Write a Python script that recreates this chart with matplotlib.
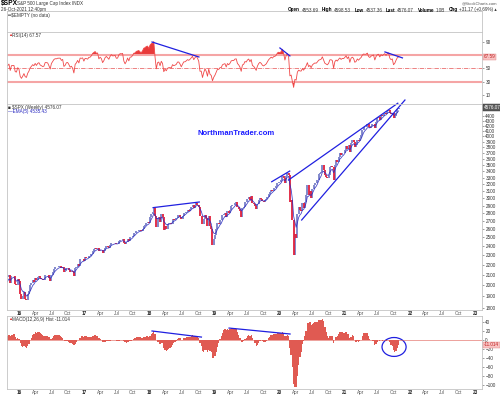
import numpy as np
import pandas as pd
import matplotlib
matplotlib.use("Agg")
import matplotlib.pyplot as plt
from matplotlib.patches import Ellipse
from matplotlib.text import Annotation

plt.rcParams['font.family'] = ['Liberation Sans', 'DejaVu Sans']

# weekly closes of $SPX, week ending 2015-01-02 .. 2021-10-29 (last bar = 26-Oct intraweek)
close_2015 = [2058, 2045, 2019, 2051, 1995, 2055, 2097, 2110, 2104, 2071, 2053, 2108, 2061,
              2067, 2102, 2081, 2117, 2108, 2116, 2123, 2126, 2107, 2092, 2094, 2110, 2102,
              2077, 2077, 2127, 2080, 2104, 2078, 2092, 1971, 1989, 1921, 1961, 1958, 1931,
              1951, 2015, 2033, 2075, 2079, 2099, 2023, 2089, 2090, 2092, 2012, 2006, 2061, 2044]
close_2016 = [1922, 1880, 1907, 1940, 1880, 1865, 1918, 1948, 1999, 2022, 2050, 2036, 2073,
              2048, 2081, 2092, 2065, 2057, 2047, 2052, 2099, 2099, 2096, 2071, 2037, 2103,
              2130, 2162, 2175, 2174, 2183, 2184, 2184, 2169, 2180, 2128, 2139, 2165, 2168,
              2153, 2133, 2141, 2126, 2085, 2164, 2182, 2213, 2192, 2260, 2258, 2264, 2239]
close_2017 = [2277, 2275, 2271, 2295, 2297, 2316, 2351, 2367, 2383, 2373, 2378, 2344, 2363,
              2355, 2329, 2349, 2384, 2399, 2391, 2382, 2416, 2439, 2432, 2433, 2438, 2423,
              2425, 2459, 2473, 2472, 2477, 2441, 2425, 2444, 2477, 2461, 2500, 2502, 2519,
              2549, 2553, 2575, 2581, 2588, 2582, 2579, 2602, 2642, 2652, 2675, 2683, 2674]
close_2018 = [2743, 2786, 2810, 2873, 2762, 2620, 2732, 2747, 2691, 2786, 2752, 2588, 2641,
              2604, 2656, 2670, 2670, 2663, 2728, 2712, 2721, 2735, 2779, 2780, 2755, 2718,
              2760, 2801, 2802, 2819, 2840, 2833, 2850, 2875, 2902, 2872, 2905, 2930, 2914,
              2886, 2767, 2768, 2658, 2723, 2781, 2736, 2633, 2760, 2633, 2600, 2417, 2486]
close_2019 = [2532, 2596, 2671, 2665, 2707, 2708, 2776, 2793, 2804, 2743, 2822, 2800, 2834,
              2893, 2907, 2905, 2940, 2946, 2881, 2860, 2826, 2752, 2873, 2887, 2950, 2942,
              2990, 3014, 2977, 3026, 2932, 2919, 2889, 2847, 2926, 2979, 3007, 2992, 2962,
              2952, 2970, 2986, 3023, 3067, 3093, 3120, 3110, 3141, 3146, 3169, 3221, 3240]
close_2020 = [3235, 3265, 3330, 3295, 3226, 3328, 3380, 3338, 2954, 2972, 2711, 2305, 2541,
              2489, 2790, 2875, 2837, 2831, 2930, 2864, 2955, 3044, 3194, 3041, 3098, 3009,
              3130, 3185, 3225, 3216, 3271, 3351, 3373, 3397, 3508, 3427, 3341, 3319, 3298,
              3348, 3477, 3484, 3465, 3270, 3510, 3585, 3558, 3638, 3699, 3663, 3709, 3703, 3756]
close_2021 = [3825, 3768, 3841, 3714, 3887, 3934, 3907, 3811, 3842, 3943, 3913, 3975, 4020,
              4129, 4185, 4180, 4181, 4233, 4174, 4156, 4204, 4230, 4247, 4166, 4281, 4352,
              4370, 4327, 4412, 4395, 4437, 4468, 4442, 4509, 4535, 4459, 4433, 4455, 4357,
              4391, 4471, 4545, 4576]
last_week = '2021-10-29'

price_ticks = list(range(1800, 4500, 100))
rsi_ticks = [10, 30, 50, 70, 90]
macd_ticks = [40, 20, 0, -20, -40, -60, -80, -100]
year_ticks = ['2016', '2017', '2018', '2019', '2020', '2021', '2022', '2023']
year_labels = ['16', '17', '18', '19', '20', '21', '22', '23']
month_names = ['Apr', 'Jul', 'Oct']
month_nums = [4, 7, 10]

# hand drawn trend lines (date, value)
price_lines = [(('2018-01-22', 2872), ('2018-10-08', 2948)),
               (('2019-11-18', 3240), ('2020-02-27', 3405)),
               (('2020-02-20', 3265), ('2021-10-25', 4670)),
               (('2020-05-04', 2711), ('2021-12-04', 4740))]
rsi_lines = [(('2018-01-16', 90), ('2018-10-06', 67.4)),
             (('2020-01-03', 81), ('2020-02-28', 69)),
             (('2021-08-14', 75), ('2021-11-20', 66))]
macd_lines = [(('2018-01-16', 20), ('2018-10-20', 6.5)),
              (('2019-03-24', 26.5), ('2020-02-29', 13.3))]
circle_center = ('2021-10-04', -15.5)

closes = pd.Series(close_2015 + close_2016 + close_2017 + close_2018 +
                   close_2019 + close_2020 + close_2021, dtype=float)
dates = pd.date_range(end=last_week, periods=len(closes), freq='W-FRI')
closes.index = dates

ema5 = closes.ewm(span=5, adjust=False).mean()
delta = closes.diff()
avg_gain = delta.clip(lower=0).ewm(alpha=1 / 14, adjust=False).mean()
avg_loss = (-delta.clip(upper=0)).ewm(alpha=1 / 14, adjust=False).mean()
rsi = 100 - 100 / (1 + avg_gain / avg_loss)
macd = closes.ewm(span=12, adjust=False).mean() - closes.ewm(span=26, adjust=False).mean()
hist = macd - macd.ewm(span=9, adjust=False).mean()

W_PX, H_PX = 500, 396
fig = plt.figure(figsize=(W_PX / 100, H_PX / 100), dpi=100)


def panel(top, bottom):
    return fig.add_axes([7 / W_PX, 1 - bottom / H_PX, 475 / W_PX, (bottom - top) / H_PX])


def ftext(x, y, s, **kw):
    kw.setdefault('fontsize', 3.3)
    kw.setdefault('va', 'center')
    return fig.text(x / W_PX, 1 - y / H_PX, s, **kw)


def value_tag(ax, y, s, fc, ec, color):
    ax.annotate(s, xy=(1.004, y), xycoords=('axes fraction', 'data'), fontsize=3.3,
                va='center', ha='left', color=color, annotation_clip=False,
                bbox=dict(boxstyle='square,pad=0.15', fc=fc, ec=ec, lw=0.3))


ax_empty = panel(11, 32)
ax_rsi = panel(32, 104)
ax_px = panel(104, 310)
ax_macd = panel(316, 389)

xmin, xmax = pd.Timestamp('2015-10-26'), pd.Timestamp('2023-02-09')
tick_pos, tick_lab = [], []
for yt, yl in zip(year_ticks, year_labels):
    tick_pos.append(pd.Timestamp(yt + '-01-01'))
    tick_lab.append(yl)
    if yt != year_ticks[-1]:
        for mn, mname in zip(month_nums, month_names):
            tick_pos.append(pd.Timestamp(f'{yt}-{mn:02d}-01'))
            tick_lab.append(mname)

for ax in (ax_empty, ax_rsi, ax_px, ax_macd):
    ax.set_xlim(xmin, xmax)
    for sp in ax.spines.values():
        sp.set_color('#c4c4c4')
        sp.set_linewidth(0.6)
    ax.yaxis.tick_right()
    ax.tick_params(axis='y', labelsize=3.3, length=1.2, width=0.4, pad=1.2,
                   colors='#555555', labelcolor='#333333')
    ax.set_xticks(tick_pos)
    ax.tick_params(axis='x', length=0, pad=1.0)
    if ax in (ax_px, ax_macd):
        ax.set_xticklabels(tick_lab, fontsize=3.3, color='#555555')
        for lab in ax.get_xticklabels():
            if lab.get_text() in year_labels:
                lab.set_fontweight('bold')
                lab.set_color('#222222')
    else:
        ax.set_xticklabels([])

ax_empty.set_yticks([])

# RSI panel (the 70 label sits under the value tag)
ax_rsi.set_ylim(-3.6, 105.1)
ax_rsi.set_yticks(rsi_ticks)
ax_rsi.set_yticklabels(['' if t == 70 else str(t) for t in rsi_ticks])
ax_rsi.axhline(70, color='#f5a5a5', lw=1.5)
ax_rsi.axhline(30, color='#f5a5a5', lw=1.5)
ax_rsi.axhline(50, color='#e65050', lw=0.5, ls='-.')
ax_rsi.fill_between(dates, rsi, 70, where=rsi > 70, color='#e83a3a', lw=0, interpolate=True)
ax_rsi.fill_between(dates, rsi, 30, where=rsi < 30, color='#e83a3a', lw=0, interpolate=True)
ax_rsi.plot(dates, rsi, color='#f04848', lw=0.6)
for (d0, v0), (d1, v1) in rsi_lines:
    ax_rsi.plot([pd.Timestamp(d0), pd.Timestamp(d1)], [v0, v1], color='#2020e0', lw=0.9)
value_tag(ax_rsi, rsi.iloc[-1], f'{rsi.iloc[-1]:.2f}', '#f8c4c4', '#e08080', '#c02020')

# price panel
ax_px.set_yscale('log')
ax_px.set_ylim(1783, 4653)
ax_px.set_yticks(price_ticks)
ax_px.set_yticklabels([str(t) for t in price_ticks])
ax_px.minorticks_off()
prev = closes.shift(1)
up = closes >= prev
ax_px.vlines(dates[up], prev[up], closes[up], color='#7880c8', lw=1.3)
ax_px.vlines(dates[~up], prev[~up], closes[~up], color='#e0203c', lw=1.3)
ax_px.plot(dates, ema5, color='#2a2ac0', lw=0.6, alpha=0.85)
for (d0, v0), (d1, v1) in price_lines:
    ax_px.plot([pd.Timestamp(d0), pd.Timestamp(d1)], [v0, v1], color='#2020e0', lw=0.9,
               clip_on=False)
value_tag(ax_px, closes.iloc[-1], '4576.07', '#5a5a5a', '#303030', 'white')
ax_px.text(0.482, 0.859, 'NorthmanTrader.com', transform=ax_px.transAxes, color='#1c1cff',
           fontsize=5.5, fontweight='bold', ha='center', va='center')

# MACD panel
ax_macd.set_ylim(-108.9, 53.3)
ax_macd.set_yticks(macd_ticks)
ax_macd.bar(dates, hist, width=7.5, color='#e05a52', lw=0)
ax_macd.axhline(0, color='#e05a52', lw=0.4)
for (d0, v0), (d1, v1) in macd_lines:
    ax_macd.plot([pd.Timestamp(d0), pd.Timestamp(d1)], [v0, v1], color='#2020e0', lw=0.9)
ax_macd.add_patch(Ellipse((pd.Timestamp(circle_center[0]), circle_center[1]),
                          width=135, height=42, fill=False, ec='#2020e0', lw=0.9))
value_tag(ax_macd, -11.0, '-11.014', '#f8c4c4', '#e08080', '#c02020')

# header and panel legends
ftext(1, 4, '$SPX', fontsize=4.8, fontweight='bold')
ftext(17, 4, 'S&P 500 Large Cap Index INDX', color='#333333')
ftext(1, 9, '26-Oct-2021 12:40pm', color='#333333')
ftext(497, 3, '@StockCharts.com', ha='right', fontsize=3, color='#555555')
quote = [('Open', '4553.69'), ('High', '4598.53'), ('Low', '4537.36'), ('Last', '4576.07'),
         ('Volume', '1.0B'), ('Chg', '+31.17 (+0.69%) \u25b4')]
key_txt = ftext(288, 10, quote[0][0], fontweight='bold')
for i, (k, v) in enumerate(quote):
    if i > 0:
        key_txt = fig.add_artist(Annotation(k, xy=(1, 0.5), xycoords=val_txt,
                                            xytext=(2.5, 0), textcoords='offset points',
                                            fontsize=3.3, fontweight='bold', va='center'))
    val_txt = fig.add_artist(Annotation(v, xy=(1, 0.5), xycoords=key_txt,
                                        xytext=(1.2, 0), textcoords='offset points',
                                        fontsize=3.3, va='center', color='#333333'))

ftext(8, 15, '\u2550$EMPTY (no data)', color='#333333')
ftext(8, 35, '\u25b2', color='#e03030', fontsize=3)
ftext(12, 35, 'RSI(14) 67.57', color='#333333')
ftext(8, 107, '\u25a0 $SPX (Weekly) 4576.07', color='#333333')
ftext(8, 111, '\u2014EMA(5) 4535.43', color='#2a2ac0')
ftext(8, 319, '\u25b2', color='#e03030', fontsize=3)
ftext(12, 319, 'MACD(12,26,9) Hist -11.014', color='#333333')

fig.savefig('out.png', dpi=100)
